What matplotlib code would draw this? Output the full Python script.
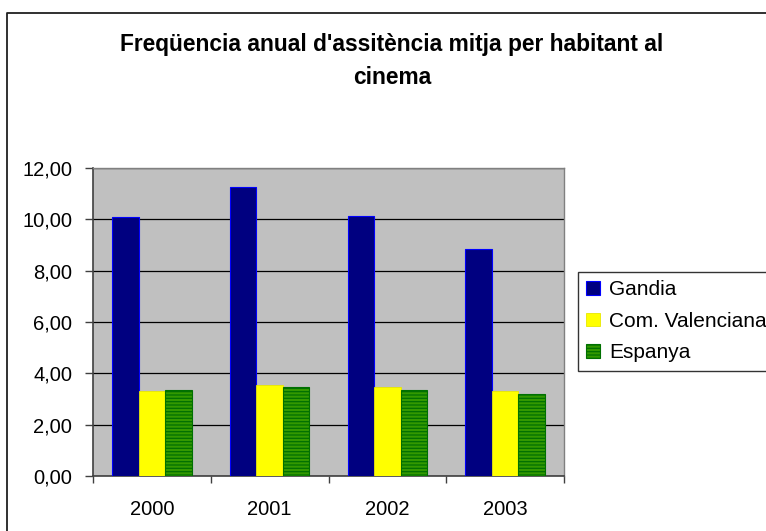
import matplotlib
matplotlib.use('Agg')
import matplotlib.pyplot as plt
from matplotlib.lines import Line2D
from matplotlib.patches import Patch
import numpy as np

plt.rcParams['font.family'] = ['Liberation Sans', 'DejaVu Sans']
plt.rcParams['hatch.linewidth'] = 0.9

# data
years = ['2000', '2001', '2002', '2003']
gandia = [10.08, 11.25, 10.14, 8.85]
com_valenciana = [3.31, 3.53, 3.46, 3.31]
espanya = [3.36, 3.47, 3.36, 3.19]
series_names = ['Gandia', 'Com. Valenciana', 'Espanya']
y_ticks = [0, 2, 4, 6, 8, 10, 12]

fig = plt.figure(figsize=(7.66, 5.31), dpi=100)
W, H = 766, 531

# chart border (only top and left edges show in the reference)
fig.lines.append(Line2D([7 / W, 7 / W, 1.0], [0.0, 1 - 13 / H, 1 - 13 / H],
                        transform=fig.transFigure, color='#202020', linewidth=1.3))

ax = fig.add_axes([93 / W, 1 - 476 / H, (564 - 93) / W, (476 - 168) / H])
ax.set_facecolor('#C0C0C0')

x = np.arange(len(years))
w = 0.225
ax.bar(x - w, gandia, w, color='#000080', edgecolor='#0000FF', linewidth=0.8, zorder=3)
ax.bar(x, com_valenciana, w, color='#FFFF00', edgecolor='#E8E800', linewidth=0.6, zorder=3)
ax.bar(x + w, espanya, w, color='#339900', edgecolor='#007000', linewidth=0.8,
       hatch='-----', zorder=3)

ax.set_xlim(-0.5, 3.5)
ax.set_ylim(0, 12)
ax.set_yticks(y_ticks)
ax.set_yticklabels([('%.2f' % v).replace('.', ',') for v in y_ticks])
ax.yaxis.grid(True, color='black', linewidth=0.9, zorder=1)
ax.set_axisbelow(True)

ax.set_xticks(np.arange(-0.5, 4, 1))
ax.set_xticklabels([])
ax.set_xticks(x, minor=True)
ax.set_xticklabels(years, minor=True)
ax.tick_params(axis='x', which='major', length=5, width=1, color='#404040', direction='out')
ax.tick_params(axis='x', which='minor', length=0, pad=17, labelsize=14.5)
ax.tick_params(axis='y', length=6, width=1, color='#404040', pad=9, labelsize=14.5)

for s in ['left', 'bottom']:
    ax.spines[s].set_color('#404040')
    ax.spines[s].set_linewidth(1.2)
for s in ['top', 'right']:
    ax.spines[s].set_color('#808080')
    ax.spines[s].set_linewidth(1.0)

fig.text(392 / W, 1 - 45 / H, "Freqüencia anual d'assitència mitja per habitant al",
         ha='center', va='center', fontsize=16.4, fontweight='bold')
fig.text(392 / W, 1 - 77 / H, 'cinema',
         ha='center', va='center', fontsize=16.4, fontweight='bold')

handles = [
    Patch(facecolor='#000080', edgecolor='#0000FF', linewidth=0.8),
    Patch(facecolor='#FFFF00', edgecolor='#E8E800', linewidth=0.6),
    Patch(facecolor='#339900', edgecolor='#007000', linewidth=0.8, hatch='-----'),
]
leg = fig.legend(handles, series_names, loc='upper left',
                 bbox_to_anchor=(578 / W, 1 - 272 / H), fontsize=15,
                 frameon=True, fancybox=False, edgecolor='black',
                 handlelength=0.65, handleheight=0.65, handletextpad=0.45,
                 borderpad=0.4, labelspacing=0.6, borderaxespad=0)
leg.get_frame().set_linewidth(1.0)

fig.savefig('out.png', dpi=100)
